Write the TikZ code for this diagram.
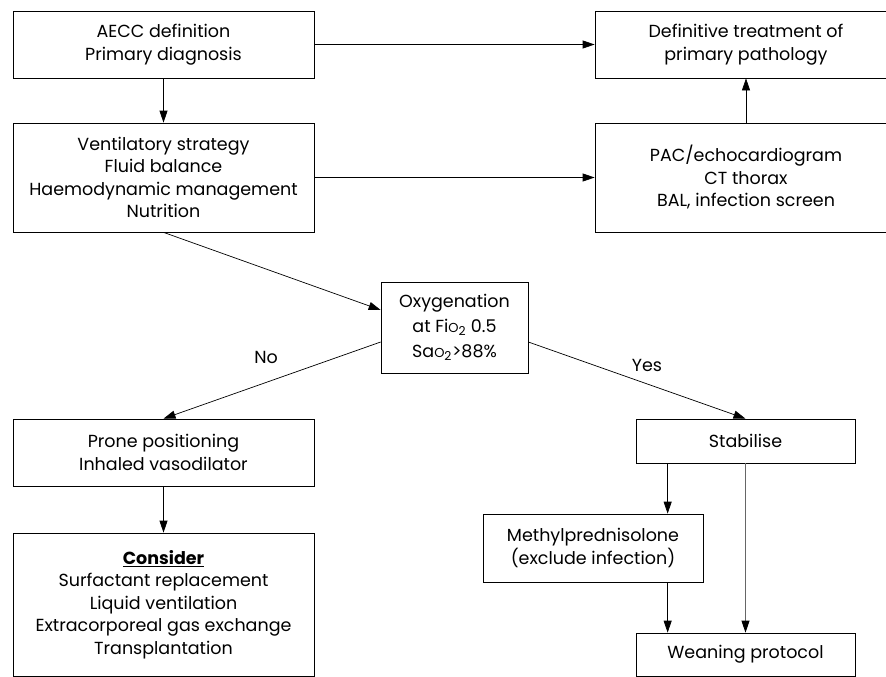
\documentclass[tikz,border=0pt]{standalone}
\usepackage{fontspec}
\setmainfont{Poppins}
\usetikzlibrary{arrows.meta}
\usetikzlibrary{positioning}
\usetikzlibrary{calc}

\newcommand{\smallO}{{\fontsize{13}{13}\selectfont O}}

\begin{document}
\begin{tikzpicture}[x=1pt, y=-1pt,
    box/.style 2 args={draw, line width=0.7pt,
      minimum width=#1, minimum height=#2,
      inner sep=0pt, align=center,
      font=\fontsize{17.5}{22.5}\selectfont},
    flow/.style={->, line width=0.7pt},
    faint/.style={line width=0.8pt, draw=black!60,
      -{Triangle[length=12pt,width=8pt,color=black]}},
    lbl/.style={font=\fontsize{17.5}{20}\selectfont},
    >={Triangle[length=12pt,width=8pt]}]

\useasboundingbox (0,0) rectangle (886,677);

% top row
\node[box={301pt}{67pt}] (aecc) at (163.5,44.5)
    {AECC definition\\Primary diagnosis};
\node[box={302pt}{67pt}] (defin) at (746,44.5)
    {Definitive treatment of\\primary pathology};

% second row
\node[box={301pt}{109pt}] (vent) at (163.5,177.5)
    {Ventilatory strategy\\Fluid balance\\Haemodynamic management\\Nutrition};
\node[box={302pt}{109pt}] (pac) at (746,177.5)
    {PAC/echocardiogram\\CT thorax\\BAL, infection screen};

% decision
\node[box={147pt}{91pt}, font=\fontsize{17.5}{25}\selectfont] (oxy) at (454.5,327.5)
    {Oxygenation\\at Fi\smallO\textsubscript{2} 0.5\\Sa\smallO\textsubscript{2}>88\%};

% no branch
\node[box={301pt}{67pt}] (prone) at (163.5,452.5)
    {Prone positioning\\Inhaled vasodilator};
\node[box={301pt}{143pt}] (cons) at (163.5,604.5)
    {\underline{\textbf{Consider}}\\Surfactant replacement\\Liquid ventilation\\%
     Extracorporeal gas exchange\\Transplantation};

% yes branch
\node[box={219pt}{44pt}] (stab) at (745.5,441) {Stabilise};
\node[box={220pt}{68pt}] (methyl) at (593,548)
    {Methylprednisolone\\(exclude infection)};
\node[box={219pt}{43pt}] (wean) at (745.5,654.5) {Weaning protocol};

\draw[flow] (aecc) -- (vent);
\draw[flow] (aecc) -- (defin);
\draw[flow] (vent) -- (pac);
\draw[flow] (pac) -- (defin);

\draw[flow] (vent.south) -- ($(oxy.west)+(0,-17.5)$);
\draw[flow] ($(oxy.west)+(0,14.5)$) -- (prone.north);
\draw[flow] ($(oxy.east)+(0,14.5)$) -- (stab.north);
\node[lbl] (no) at (266,357) {No};
\node[lbl] (yes) at (647,365) {Yes};

\coordinate (sm) at ($(stab.south west)+(32,0)$);
\draw[flow] (sm) -- (sm |- methyl.north);
\draw[flow] (methyl.south -| sm) -- (sm |- wean.north);
\draw[faint] (stab) -- (wean);
\draw[flow] (prone) -- (cons);

\end{tikzpicture}
\end{document}
